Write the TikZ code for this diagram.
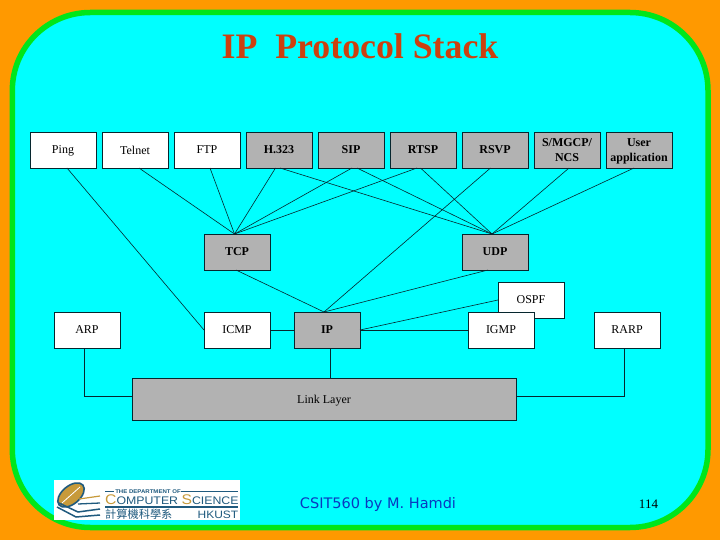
\documentclass[tikz,border=0pt]{standalone}
\usepackage{fontspec}
\setmainfont{Liberation Serif}
\newfontfamily\footfont{DejaVu Sans}
\newfontfamily\logofont[FakeStretch=1.12]{Liberation Sans}
\newfontfamily\cjkfont{Noto Sans CJK TC}
\usetikzlibrary{positioning, calc}

\definecolor{pageorange}{HTML}{FF9900}
\definecolor{framegreen}{HTML}{00E61A}
\definecolor{slidecyan}{HTML}{00FFFF}
\definecolor{boxgrey}{HTML}{B2B2B2}
\definecolor{titlered}{HTML}{CC400F}
\definecolor{footblue}{HTML}{0A38C0}
\definecolor{linedark}{HTML}{06262E}
\definecolor{logoblue}{HTML}{1F5A7E}
\definecolor{logogold}{HTML}{C79A3A}

\begin{document}
\begin{tikzpicture}[
        x=1pt, y=-1pt,
        node distance=6pt,
        block/.style={draw=linedark, rectangle, line width=0.7pt, minimum height=36pt, minimum width=66pt, inner sep=0pt, outer sep=0pt, align=center, text depth=0pt, fill=white, font=\fontsize{12}{15}\selectfont},
        greyblock/.style={block, fill=boxgrey, font=\fontsize{12}{15}\selectfont\bfseries},
        link/.style={draw=linedark, line width=0.6pt}
    ]
        \useasboundingbox (0,0) rectangle (720,540);

        % Slide background
        \fill[pageorange] (0,0) rectangle (720,540);
        \draw[framegreen, fill=slidecyan, line width=5.5pt, rounded corners=78pt] (12.3,12.5) rectangle (708,527.5);
        \node[text=titlered, font=\fontsize{35.8}{38}\selectfont\bfseries] (title) at (360,46) {IP\ \ Protocol Stack};

        % Application row
        \node[block] (ping) at (63,150) {Ping};
        \node[block, right=of ping] (telnet) {Telnet};
        \node[block, right=of telnet] (ftp) {FTP};
        \node[greyblock, right=of ftp] (h323) {H.323};
        \node[greyblock, right=of h323] (sip) {SIP};
        \node[greyblock, right=of sip] (rtsp) {RTSP};
        \node[greyblock, right=of rtsp] (rsvp) {RSVP};
        \node[greyblock, right=of rsvp] (smgcp) {S/MGCP/\\NCS};
        \node[greyblock, right=of smgcp] (userapp) {User\\application};

        % Transport row
        \node[greyblock] (tcp) at (237,252) {TCP};
        \node[greyblock] (udp) at (495,252) {UDP};

        % Network row
        \node[block] (ospf) at (531,300) {OSPF};
        \node[block] (arp) at (87,330) {ARP};
        \node[block] (icmp) at (237,330) {ICMP};
        \node[greyblock] (ip) at (327,330) {IP};
        \node[block] (igmp) at (501,330) {IGMP};
        \node[block] (rarp) at (627,330) {RARP};
        \node[block, fill=boxgrey, minimum width=384pt, minimum height=42pt] (linklayer) at (324,399) {Link Layer};

        \coordinate (tcpin) at ([xshift=-2.5pt]tcp.north);
        \coordinate (udpin) at ([xshift=-3pt]udp.north);
        \coordinate (ipin) at ([xshift=-3pt]ip.north);

        % Connections
        \draw[link] ([xshift=4pt]ping.south) -- (icmp.west);
        \draw[link] ([xshift=4pt]telnet.south) -- (tcpin);
        \draw[link] ([xshift=3pt]ftp.south) -- (tcpin);
        \draw[link] ([xshift=-3.5pt]h323.south) -- (tcpin);
        \draw[link] ([xshift=1pt]sip.south) -- (tcpin);
        \draw[link] ([xshift=-6pt]rtsp.south) -- (tcpin);
        \draw[link] ([xshift=1pt]h323.south) -- (udpin);
        \draw[link] ([xshift=6pt]sip.south) -- (udpin);
        \draw[link] ([xshift=-2.5pt]rtsp.south) -- (udpin);
        \draw[link] ([xshift=2pt]smgcp.south) -- (udpin);
        \draw[link] ([xshift=-5pt]userapp.south) -- (udpin);
        \draw[link] ([xshift=-4.5pt]rsvp.south) -- (ipin);
        \draw[link] ([xshift=-1pt]tcp.south) -- (ipin);
        \draw[link] ([xshift=-7pt]udp.south) -- (ipin);
        \draw[link] (ospf.west) -- (ip.east);
        \draw[link] (icmp.east) -- (ip.west);
        \draw[link] (ip.east) -- (igmp.west);
        \draw[link] ([xshift=3pt]ip.south) -- ([xshift=6pt]linklayer.north);
        \draw[link] ([xshift=-3pt]arp.south) |- ([yshift=2.5pt]linklayer.west);
        \draw[link] ([xshift=-3pt]rarp.south) |- ([yshift=2.5pt]linklayer.east);

        % Logo
        \fill[white] (54,480) rectangle (240,520);
        \draw[logoblue, fill=logogold, line width=1.6pt, rotate around={40:(71,495)}] (71,495) ellipse (15.5pt and 9pt);
        \draw[white, line width=0.8pt] (62,503) -- (80,487);
        \draw[logoblue, line width=1.5pt] (57,507) -- (76,517) -- (100,515);
        \draw[logoblue, line width=1.5pt] (59,503) -- (78,512) -- (100,509);
        \draw[logoblue, line width=1.3pt] (78,504) -- (100,503);
        \draw[logogold, line width=1.2pt] (79,499) -- (100,496);
        \draw[logoblue, line width=1.4pt] (105,491.7) -- (114,491.7) (181,491.7) -- (238,491.7);
        \draw[logoblue, line width=1.4pt] (105,507) -- (238,507);
        \node[text=logoblue, font=\logofont\fontsize{5.4}{6}\selectfont\bfseries] (dept) at (148,491.7) {THE DEPARTMENT OF};
        \node[text=logoblue, anchor=west, inner sep=0pt, font=\logofont\fontsize{11}{12}\selectfont] (cs) at (105,499.5) {{\color{logogold}\fontsize{14}{14}\selectfont C}OMPUTER {\color{logogold}\fontsize{14}{14}\selectfont S}CIENCE};
        \node[text=logoblue, anchor=west, inner sep=0pt, font=\cjkfont\fontsize{11.2}{12}\selectfont] (cjk) at (105,514.5) {計算機科學系};
        \node[text=logoblue, anchor=east, inner sep=0pt, font=\logofont\fontsize{10.7}{11}\selectfont] (hkust) at (238.5,514.5) {HKUST};

        % Footer
        \node[text=footblue, font=\footfont\fontsize{14.5}{16}\selectfont] (footer) at (378,504) {CSIT560 by M. Hamdi};
        \node[font=\fontsize{13}{14}\selectfont] (pagenum) at (648.5,504) {114};
    \end{tikzpicture}
\end{document}
